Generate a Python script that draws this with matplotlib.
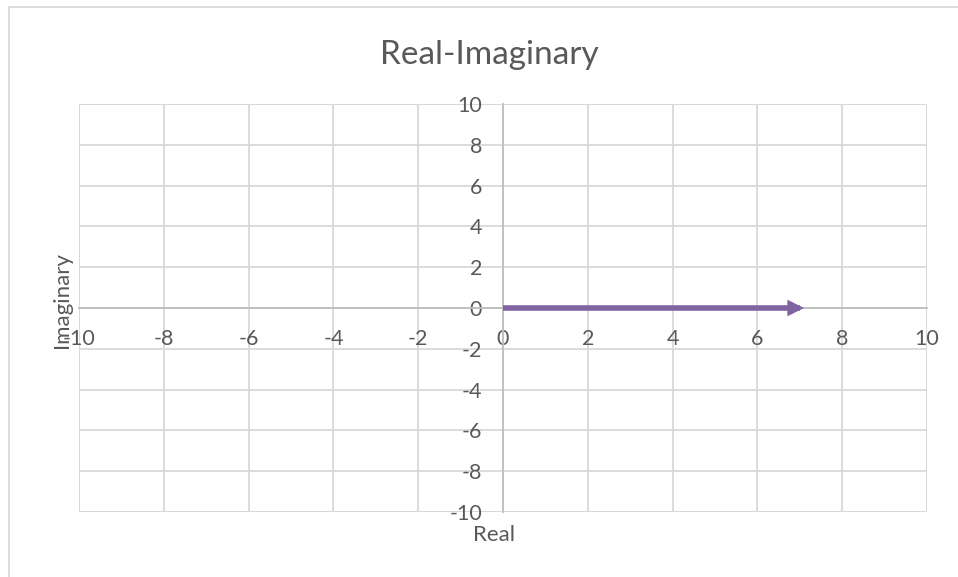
import matplotlib.pyplot as plt
from matplotlib.lines import Line2D

# vector data (real part, imaginary part)
real = [0, 7]
imag = [0, 0]

x_ticks = [-10, -8, -6, -4, -2, 0, 2, 4, 6, 8, 10]
y_ticks = [-10, -8, -6, -4, -2, 0, 2, 4, 6, 8, 10]

plt.rcParams['font.family'] = ['Lato', 'DejaVu Sans']
grey_text = '#595959'
grid_col = '#D9D9D9'

W, H = 958, 577
fig = plt.figure(figsize=(W / 100, H / 100), dpi=100)
ax = fig.add_axes([79 / W, 1 - 512 / H, (927 - 79) / W, (512 - 104) / H])

ax.set_xlim(-10, 10)
ax.set_ylim(-10, 10)
ax.set_xticks(x_ticks)
ax.set_yticks(y_ticks)
ax.grid(True, color=grid_col, linewidth=1.3)
ax.set_axisbelow(True)

for s in ['top', 'right']:
    ax.spines[s].set_visible(False)
ax.spines['left'].set_position('zero')
ax.spines['bottom'].set_position('zero')
ax.spines['left'].set_color('#BFBFBF')
ax.spines['bottom'].set_color('#BFBFBF')
ax.spines['left'].set_linewidth(1.3)
ax.spines['bottom'].set_linewidth(1.3)
ax.tick_params(length=0, labelsize=15.5, labelcolor=grey_text, pad=15)
ax.set_xticklabels([str(v) for v in x_ticks])
ax.set_yticklabels([str(v) for v in y_ticks])

# plot area border
ax.add_patch(plt.Rectangle((0, 0), 1, 1, transform=ax.transAxes, fill=False,
                           edgecolor=grid_col, linewidth=1.3, zorder=0.5))

# the vector
ax.plot(real, imag, color='#8064A2', linewidth=4, solid_capstyle='butt', zorder=4)
ax.annotate('', xy=(real[1] + 0.1, imag[1]), xytext=(real[1] - 0.5, imag[1]),
            arrowprops=dict(arrowstyle='-|>', color='#8064A2', lw=0,
                            mutation_scale=30, shrinkA=0, shrinkB=0),
            zorder=5)

fig.text(489 / W, 1 - 55 / H, 'Real-Imaginary', ha='center', va='center',
         fontsize=24, color=grey_text)
fig.text(494 / W, 1 - 535 / H, 'Real', ha='center', va='center',
         fontsize=16, color=grey_text)
fig.text(62 / W, 1 - 300 / H, 'Imaginary', ha='center', va='center',
         rotation=90, fontsize=16, color=grey_text)

# outer chart border (left and top edges visible)
fig.add_artist(Line2D([8.5 / W, 8.5 / W], [0, 1 - 6.5 / H], color=grid_col,
                      linewidth=1.3, transform=fig.transFigure))
fig.add_artist(Line2D([8.5 / W, 1], [1 - 6.5 / H, 1 - 6.5 / H], color=grid_col,
                      linewidth=1.3, transform=fig.transFigure))

fig.savefig('out.png', dpi=100)
